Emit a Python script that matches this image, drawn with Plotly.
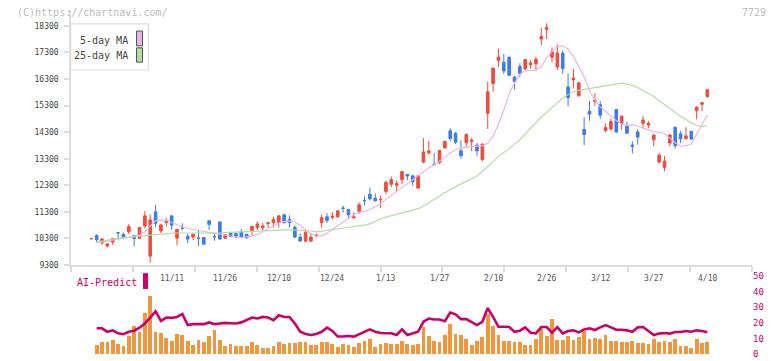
import plotly.graph_objects as go
import numpy as np

# ---------------- data ----------------
opens = [10290,10410,10130,10015,10165,10520,10450,10550,10410,10300,
         10770,9635,11300,10585,10900,11150,10310,10700,10385,10350,
         10315,10335,10965,10380,10920,10310,10520,10485,10550,10460,
         10560,10720,10700,10855,10895,10895,11190,11015,10720,10350,
         10200,10200,10400,10895,11115,11090,11115,11450,11390,11070,
         11320,11730,11960,11810,11750,12070,12340,12305,12515,12715,
         12655,12195,13175,13520,13090,13150,13705,14350,14260,13600,
         13900,13950,13805,13270,15015,16130,17000,16930,17120,16370,
         16770,16680,16835,16870,17800,18170,17120,16750,17270,16000,
         16270,15670,14400,15090,15455,15335,14360,14420,15150,14630,
         14530,13815,14310,14630,14570,14015,13175,12975,13890,14485,
         14235,14050,14335,15105,15350,15645]
highs = [10290,10460,10325,10125,10325,10525,10520,10845,10420,10720,
         11340,11200,11560,10845,11070,11160,10650,10870,10475,10485,
         10620,10340,10970,10480,10930,10450,10550,10530,10660,10470,
         10760,10930,10880,10930,11120,11160,11230,11170,10790,10490,
         10570,10500,10480,11200,11250,11300,11350,11540,11400,11290,
         11660,11890,12220,11990,11910,12480,12630,12480,12820,12720,
         12680,12680,14075,13960,13520,13610,13960,14450,14300,13990,
         14250,14090,13900,13880,16190,16720,17450,17240,17145,16425,
         16895,17055,17020,17145,18235,18395,17490,17600,17370,16510,
         16685,16180,14855,15475,15765,15475,14630,14805,15160,14910,
         14695,13955,14410,14905,14720,14225,13520,13395,14225,14490,
         14345,14485,14340,15275,15420,15930]
lows = [10290,10160,10050,9965,10050,10290,10290,10460,10000,10290,
        10680,9385,10720,10500,10745,10620,10040,10620,10125,10240,
        10000,10050,10620,10215,10260,10290,10330,10310,10310,10290,
        10420,10610,10610,10710,10710,10710,10860,10710,10310,10190,
        10150,10160,10330,10690,10880,11010,11080,11270,11070,11060,
        11220,11540,11730,11690,11440,11960,12230,12060,12340,12500,
        12280,12180,13120,13450,13050,13110,13700,13950,13850,13300,
        13750,13590,13410,13200,14420,15820,16750,16490,16410,15910,
        16375,16625,16685,16625,17575,17800,16930,16640,16490,15275,
        15940,15630,13805,14730,15290,14800,14290,14360,14260,14385,
        14235,13495,13830,14470,14445,13770,13120,12825,13770,13680,
        13890,14045,14010,14780,15090,15595]
closes = [10290,10250,10275,10090,10300,10510,10340,10745,10300,10710,
          11150,10995,10870,10810,10960,10800,10645,10690,10275,10460,
          10305,10090,10830,10360,10275,10435,10375,10385,10350,10325,
          10755,10845,10770,10895,11015,11150,10895,10895,10350,10200,
          10535,10350,10420,11080,10980,11140,11340,11430,11190,11110,
          11565,11720,11790,11715,11770,12405,12515,12370,12815,12650,
          12430,12655,13555,13595,13080,13605,13955,14060,13920,13420,
          14215,14000,13595,13850,15820,16710,17120,16600,16440,16210,
          16500,17030,16905,17045,17900,18235,17330,17280,16690,15600,
          16335,16155,14215,14980,15510,14940,14470,14695,14310,14905,
          14260,13770,14115,14755,14630,14190,13435,13210,14190,13790,
          14050,14160,14040,15240,15410,15895]

ma5 = [None,10130,10175,10200,10240,10275,10310,10345,10360,10420,
       10560,10750,10960,11000,10990,10900,10800,10730,10675,10640,
       10600,10560,10530,10490,10445,10405,10380,10355,10335,10360,
       10390,10450,10560,10680,10780,10880,10930,10960,10920,10800,
       10620,10480,10380,10400,10500,10640,10780,10940,11080,11190,
       11280,11320,11390,11500,11610,11770,11920,12050,12210,12370,
       12530,12650,12800,12950,13060,13200,13360,13520,13640,13705,
       13730,13740,13760,13790,13880,14150,14600,15130,15750,16150,
       16480,16620,16610,16640,16760,17100,17330,17520,17540,17420,
       17150,16780,16380,15860,15500,15250,15080,14900,14740,14610,
       14560,14570,14530,14450,14380,14320,14290,14250,14070,13900,
       13770,13790,13850,14250,14600,14940]
ma25 = [None,10150,10200,10250,10275,10300,10320,10335,10350,10370,
        10390,10410,10440,10470,10495,10500,10505,10510,10515,10520,
        10515,10505,10500,10495,10505,10520,10530,10540,10555,10570,
        10585,10595,10600,10605,10610,10615,10620,10620,10620,10620,
        10600,10580,10560,10575,10600,10625,10660,10690,10720,10750,
        10780,10800,10850,10950,11040,11100,11160,11210,11260,11310,
        11370,11420,11520,11650,11780,11900,12020,12140,12250,12350,
        12450,12550,12650,12830,13000,13180,13380,13520,13680,13850,
        14010,14230,14450,14660,14870,15050,15230,15430,15580,15720,
        15820,15870,15905,15940,15980,16020,16060,16100,16130,16145,
        16110,16060,15980,15860,15760,15640,15480,15330,15200,15030,
        14900,14780,14640,14560,14510,14550]

volume = [0,5.9,7.6,7.6,9.1,6.3,4.9,11.6,17.9,14.1,
          26.2,36.9,14.1,13.5,10.3,8.4,12.9,11.8,8.4,5.7,
          9.1,7.4,11.2,15.4,9.1,4.9,6.5,5.3,5.3,4.9,
          7.8,5.9,4.0,4.0,5.3,7.8,6.1,7.2,6.8,7.8,
          7.8,5.9,5.5,7.8,7.8,6.3,4.2,6.3,5.9,4.2,
          7.2,8.4,9.7,4.4,6.3,6.8,6.3,6.3,8.4,6.3,
          5.5,6.5,16.9,11.6,8.4,7.8,12.2,19.2,12.9,12.4,
          9.7,5.9,8.4,10.5,25.5,17.9,11.8,8.4,8.4,7.8,
          7.8,5.9,5.9,9.7,15.8,11.2,22.4,9.1,9.1,11.6,
          9.1,11.0,14.8,9.7,10.3,9.7,12.2,8.4,8.4,7.8,
          7.8,8.4,7.2,7.2,6.5,9.7,7.8,8.4,7.8,9.7,
          4.9,5.3,4.0,9.7,7.2,7.8]
ai_predict = [None,16.5,16.5,14.3,15.2,13.3,12.7,14.3,15.0,16.9,
              19.6,23.4,27.4,21.3,23.4,23.2,23.8,25.7,18.6,19.2,
              19.2,19.2,20.3,19.2,19.6,20.0,19.8,19.6,20.3,21.7,
              23.4,22.8,23.8,23.4,21.7,24.9,23.8,23.8,19.6,14.3,
              12.9,12.2,12.9,14.3,16.9,14.8,11.2,11.2,11.6,11.2,
              12.7,14.3,15.8,14.3,13.5,13.3,13.3,12.2,15.8,12.2,
              13.3,14.3,20.7,22.8,22.2,22.2,21.1,26.6,25.5,22.4,
              22.4,20.7,18.6,20.7,29.5,23.8,17.5,17.5,17.3,14.3,
              15.0,17.1,13.7,13.3,17.3,17.3,13.7,17.3,13.3,14.8,
              15.2,13.9,15.8,16.5,15.4,17.1,18.6,17.1,15.6,15.6,
              15.2,14.3,17.1,17.3,14.8,12.2,13.1,13.5,13.1,14.1,
              14.1,14.8,14.3,15.2,14.8,13.9]

date_labels = ["11/11","11/26","12/10","12/24","1/13","1/27",
               "2/10","2/26","3/12","3/27","4/10"]
date_label_pos = [15,25,35,45,55,65,75,85,95,105,115]
price_ticks = list(range(9300, 18301, 1000))
sub_ticks = [0,10,20,30,40,50]

# ---------------- styling / geometry ----------------
W, H = 772, 361
L_PX, R_PX = 71, 752
RED, BLUE = "#ef4b3c", "#3d7ce8"
ORANGE, MAGENTA = "#f0963c", "#cc0066"
PINK, GREEN = "#e8b4e8", "#b4dca4"
FONT = "DejaVu Sans Mono"
AX = "#dddddd"

idx = list(range(len(opens)))
X0 = (L_PX - 91.3) / 5.357
X1 = (R_PX - 91.3) / 5.357

def py(px):  # pixel y -> paper y
    return 1 - px / H
def pxx(px):  # pixel x -> paper x
    return (px - L_PX) / (R_PX - L_PX)

top_bot, top_top = 268.75, 10.0
y_hi = 9300 + (top_bot - top_top) / 26.95 * 1000
sub_bot, sub_top = 359.0, 274.0
sub_hi = (sub_bot - sub_top) / 1.58

fig = go.Figure()
fig.add_trace(go.Candlestick(
    x=idx, open=opens, high=highs, low=lows, close=closes,
    increasing=dict(line=dict(color=RED, width=1), fillcolor=RED),
    decreasing=dict(line=dict(color=BLUE, width=1), fillcolor=BLUE),
    whiskerwidth=0, showlegend=False, xaxis="x", yaxis="y"))
fig.add_trace(go.Scatter(x=idx, y=ma5, mode="lines",
    line=dict(color=PINK, width=1.2), showlegend=False, xaxis="x", yaxis="y"))
fig.add_trace(go.Scatter(x=idx, y=ma25, mode="lines",
    line=dict(color=GREEN, width=1.2), showlegend=False, xaxis="x", yaxis="y"))

fig.add_trace(go.Bar(x=idx, y=volume, width=0.7, marker=dict(color=ORANGE, line=dict(width=0)),
    showlegend=False, xaxis="x2", yaxis="y2"))
fig.add_trace(go.Scatter(x=idx, y=ai_predict, mode="lines",
    line=dict(color=MAGENTA, width=2.6), showlegend=False, xaxis="x2", yaxis="y2"))

grid_ticks = list(np.linspace(X0, X1, 12))

fig.update_layout(
    width=W, height=H, margin=dict(l=L_PX, r=W - R_PX, t=0, b=0),
    paper_bgcolor="white", plot_bgcolor="white",
    boxgap=0.3, bargap=0, hovermode=False,
    xaxis=dict(domain=[0, 1], range=[X0, X1], tickvals=grid_ticks, showticklabels=False,
               ticks="outside", ticklen=5, tickcolor=AX, tickwidth=1.5,
               showline=True, linecolor=AX, linewidth=1.5, showgrid=False, zeroline=False,
               rangeslider=dict(visible=False), anchor="y"),
    yaxis=dict(domain=[py(top_bot), py(top_top)], range=[9300, y_hi], tickvals=price_ticks,
               ticktext=[str(v) for v in price_ticks],
               ticks="outside", ticklen=5, tickcolor=AX, tickwidth=1.5,
               showline=True, linecolor=AX, linewidth=1.5, showgrid=False, zeroline=False,
               tickfont=dict(family=FONT, size=8, color="#444"), ticklabelstandoff=4,
               anchor="x"),
    xaxis2=dict(domain=[0, 1], range=[X0, X1], visible=False, anchor="y2", matches="x"),
    yaxis2=dict(domain=[py(sub_bot), py(sub_top)], range=[0, sub_hi], side="right",
                tickvals=sub_ticks, ticktext=[str(v) for v in sub_ticks],
                showline=False, ticks="", showgrid=False, zeroline=False,
                tickfont=dict(family=FONT, size=9, color=MAGENTA), anchor="x2"),
)

ann = []
ann.append(dict(text="(C)https://chartnavi.com/", x=pxx(15), y=py(12.5), xref="paper", yref="paper",
                xanchor="left", yanchor="middle", showarrow=False,
                font=dict(family=FONT, size=10, color="#bbbbbb")))
ann.append(dict(text="7729", x=pxx(768), y=py(12.5), xref="paper", yref="paper",
                xanchor="right", yanchor="middle", showarrow=False,
                font=dict(family=FONT, size=10, color="#bbbbbb")))
for lab, pos in zip(date_labels, date_label_pos):
    ann.append(dict(text=lab, x=pos, y=py(282.5), xref="x", yref="paper",
                    xanchor="center", yanchor="middle", showarrow=False,
                    font=dict(family=FONT, size=8, color="#555")))
ann.append(dict(text="AI-Predict", x=pxx(75), y=py(286), xref="paper", yref="paper",
                xanchor="left", yanchor="middle", showarrow=False,
                font=dict(family=FONT, size=10, color=MAGENTA)))
ann.append(dict(text="5-day MA", x=pxx(129.5), y=py(40.7), xref="paper", yref="paper",
                xanchor="right", yanchor="middle", showarrow=False,
                font=dict(family=FONT, size=10, color="#444")))
ann.append(dict(text="25-day MA", x=pxx(129.5), y=py(56.7), xref="paper", yref="paper",
                xanchor="right", yanchor="middle", showarrow=False,
                font=dict(family=FONT, size=10, color="#444")))

shapes = []
shapes.append(dict(type="rect", xref="paper", yref="paper", x0=pxx(70.7), x1=pxx(148.3),
                   y0=py(71), y1=py(24.3), fillcolor="white", line=dict(color=AX, width=1.2),
                   layer="above"))
shapes.append(dict(type="rect", xref="paper", yref="paper", x0=pxx(136.5), x1=pxx(142.5),
                   y0=py(46.5), y1=py(31.5), fillcolor=PINK, line=dict(color="#555", width=1),
                   layer="above"))
shapes.append(dict(type="rect", xref="paper", yref="paper", x0=pxx(136.5), x1=pxx(142.5),
                   y0=py(63), y1=py(48.5), fillcolor=GREEN, line=dict(color="#555", width=1),
                   layer="above"))
shapes.append(dict(type="rect", xref="paper", yref="paper", x0=pxx(143), x1=pxx(148),
                   y0=py(293), y1=py(277), fillcolor=MAGENTA, line=dict(width=0),
                   layer="above"))
fig.update_layout(annotations=ann, shapes=shapes)

fig.write_html("out.html", config={"displayModeBar": False},
               post_script="document.body.style.margin='0px';document.body.style.padding='0px';")
